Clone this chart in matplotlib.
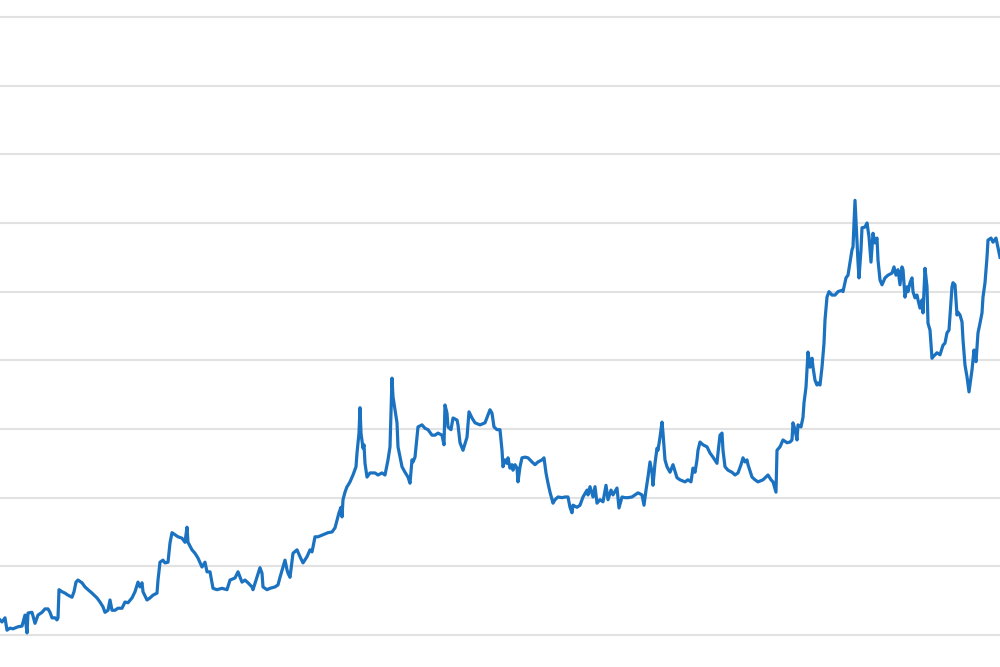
import matplotlib
matplotlib.use("Agg")
import matplotlib.pyplot as plt
import numpy as np

# readings: trading day vs. price level
days = [
    0, 2, 5, 7, 10, 13, 18, 22, 25, 27, 28, 32, 35, 38, 42, 45, 48, 50, 52, 55,
    57, 58, 59, 62, 65, 68, 72, 74, 76, 78, 82, 85, 88, 92, 97, 100, 103, 105, 108, 110,
    112, 115, 118, 122, 125,
    128, 132, 135, 138, 140, 142, 143, 147, 150, 153, 157, 158, 160, 163, 165, 168, 170, 172, 175, 178,
    182, 185, 187, 188, 192, 195, 198, 202, 205, 207, 210, 213, 217, 222, 227, 230, 235, 238, 242, 245,
    248, 252,
    253, 257, 260, 262, 263, 267, 270, 275, 278, 280, 283, 285, 287, 288, 290, 293, 297, 300, 303, 307,
    310, 312, 313, 315, 318, 323, 328, 332, 335, 337, 339, 341, 342, 343, 345, 347, 348, 350, 353, 356,
    357, 359, 360, 361, 363, 364, 365, 367, 370, 375, 378,
    382, 385, 388, 390, 392, 393, 395, 397, 398, 402, 405, 408, 410, 412, 413, 415, 418, 422, 425, 428,
    432, 435, 438, 442, 444, 445, 447, 448, 451, 453, 457, 458, 460, 463, 467, 469, 472, 475, 480, 485,
    490, 492, 494, 497, 500,
    502, 503, 505, 507, 508, 510, 512, 513, 515, 517, 518, 520, 522, 525, 528, 532, 535, 538, 542, 544,
    546, 548, 550, 553, 555, 558, 562, 565, 568, 570, 572, 573, 577, 580, 583, 587, 588, 590, 593, 595,
    597, 600, 603, 606, 608, 611, 613, 617, 619, 622, 625,
    628, 632, 635, 638, 642, 644, 646, 648, 650, 652, 653, 655, 657, 658, 660, 662, 663, 665, 667, 670,
    673, 677, 680, 685, 688, 691, 693, 695, 697, 698, 700, 703, 707, 710, 713, 717, 718, 720, 722, 723,
    725, 728, 732, 735, 738, 741, 743, 745, 747, 748, 752,
    755, 758, 763, 768, 771, 773, 776, 777, 780, 783, 787, 790, 792, 793, 795, 797, 798, 801, 803, 804,
    806, 807, 808, 810, 812, 813, 815, 817, 818, 820, 822, 823, 824, 825, 827, 829, 832, 835, 838, 842,
    843, 846, 848, 850, 852, 853, 855, 857, 858, 859, 861, 862, 865, 867, 869, 871, 873, 875, 877, 878,
    880, 882, 885, 888, 892, 894, 896, 898, 900, 902, 903, 905, 907, 908, 910, 912, 913, 915, 917, 918,
    920, 922, 923, 925, 927, 928, 930, 932, 933, 937, 940, 943, 945, 947, 949, 952, 953, 955, 957, 958,
    960, 962, 963, 965, 967, 969, 972, 974, 976, 978, 980, 982, 983, 985, 987, 988, 991, 993, 996, 998,
    1000,
]

price = [
    2.2, 1.9, 2.5, 0.7, 1.0, 0.9, 1.2, 1.3, 2.9, 0.3, 3.2, 3.3, 1.7, 2.9, 3.3, 3.8, 3.8, 3.3, 2.5, 2.5,
    2.2, 2.5, 6.6, 6.3, 6.1, 5.8, 5.5, 6.3, 7.7, 8.0, 7.6, 7.0, 6.6, 6.1, 5.4, 4.8, 4.1, 3.3, 3.6, 5.1,
    3.6, 3.6, 3.9, 3.9, 4.8,
    4.7, 5.4, 6.3, 7.7, 7.0, 7.6, 6.3, 5.1, 5.4, 5.8, 6.1, 8.0, 10.6, 10.9, 10.5, 10.6, 13.4, 14.9, 14.6, 14.3,
    14.1, 13.5, 15.7, 13.5, 12.4, 11.9, 11.2, 9.9, 10.6, 9.2, 9.2, 6.8, 6.6, 6.8, 6.6, 8.0, 8.3, 9.2, 7.7, 8.0,
    7.6, 7.0,
    6.6, 8.4, 9.8, 9.0, 7.0, 6.6, 6.8, 7.0, 7.3, 8.4, 9.9, 10.9, 9.5, 9.0, 8.4, 11.9, 12.4, 11.4, 10.5, 11.4,
    12.4, 12.1, 12.8, 14.3, 14.3, 14.6, 14.9, 15.0, 15.6, 16.7, 17.8, 18.6, 17.2, 19.7, 20.8, 21.6, 21.8, 22.3, 23.3, 24.5,
    26.5, 29.4, 33.1, 29.4, 27.2, 27.7, 25.0, 23.0, 23.6, 23.6, 23.3,
    23.6, 23.3, 25.5, 27.4, 37.4, 34.7, 32.8, 30.9, 27.4, 24.5, 23.7, 23.0, 22.1, 25.5, 25.2, 25.9, 30.3, 30.6, 30.1, 29.9,
    29.1, 29.1, 29.4, 29.1, 27.7, 33.5, 32.3, 30.3, 29.9, 31.6, 31.3, 30.6, 28.0, 26.9, 28.8, 32.5, 31.6, 30.9, 30.6, 30.9,
    32.8, 32.3, 30.3, 29.9, 29.9,
    26.9, 24.5, 25.5, 25.0, 25.8, 24.3, 24.8, 24.0, 24.8, 24.3, 22.3, 24.5, 25.8, 25.9, 25.8, 25.2, 24.8, 25.2, 25.5, 25.8,
    23.6, 22.1, 20.8, 19.2, 19.7, 20.1, 20.0, 20.1, 20.1, 18.6, 17.8, 18.9, 18.6, 18.9, 20.1, 21.1, 20.4, 21.6, 20.1, 21.6,
    19.2, 19.7, 19.4, 21.8, 19.7, 21.1, 20.4, 21.4, 18.5, 20.1, 20.0,
    20.0, 20.1, 20.4, 20.7, 20.4, 18.9, 21.1, 23.0, 25.2, 23.7, 21.8, 25.0, 27.2, 26.9, 28.8, 31.0, 29.4, 25.5, 24.5, 23.7,
    24.8, 22.9, 22.6, 22.3, 22.6, 22.3, 24.3, 23.7, 25.5, 26.9, 28.1, 27.7, 27.4, 26.5, 25.9, 25.0, 26.5, 29.1, 29.4, 26.9,
    24.5, 24.0, 23.7, 23.3, 23.6, 24.8, 25.8, 25.2, 25.5, 24.8, 23.0,
    22.6, 22.3, 22.6, 23.3, 22.6, 22.3, 20.8, 26.9, 27.4, 28.4, 28.0, 28.1, 28.4, 30.9, 29.9, 28.4, 30.6, 30.3, 31.7, 33.8,
    36.1, 38.6, 41.2, 39.0, 40.3, 39.0, 37.1, 36.4, 36.7, 36.4, 39.0, 40.8, 42.5, 45.9, 49.2, 50.0, 49.5, 49.5, 50.0, 50.2,
    50.0, 52.0, 52.4, 54.3, 56.1, 56.5, 63.3, 57.1, 54.3, 52.0, 56.1, 59.3, 59.4, 60.0, 58.0, 54.3, 58.5, 57.1, 57.8, 54.6,
    51.7, 51.0, 52.0, 52.4, 52.7, 53.6, 52.4, 53.2, 51.0, 53.6, 53.2, 49.2, 50.7, 50.0, 51.3, 52.0, 50.0, 49.1, 49.5, 48.8,
    47.6, 48.8, 46.9, 53.4, 50.7, 45.4, 44.4, 40.3, 40.5, 41.1, 40.8, 42.2, 42.5, 44.0, 44.4, 50.7, 51.3, 51.0, 46.6, 47.0,
    46.6, 45.6, 43.0, 39.3, 37.6, 35.4, 38.6, 41.5, 39.8, 44.0, 45.4, 46.9, 49.2, 51.3, 55.0, 57.5, 57.8, 57.2, 57.8, 56.4,
    55.0,
]

grid_levels = np.arange(0, 100, 10)

fig = plt.figure(figsize=(10, 6.67), dpi=100)
ax = fig.add_axes([0, 0, 1, 1])

ax.plot(days, price, color="#1b72c0", linewidth=2.3, solid_joinstyle="round", zorder=3)

ax.set_xlim(0, 1000)
ax.set_ylim(-4.66, 92.47)
ax.set_yticks(grid_levels)
ax.set_xticks([])
ax.yaxis.grid(True, color="#e2e2e2", linewidth=1.5)
ax.tick_params(axis="y", length=0, labelleft=False)
for side in ax.spines.values():
    side.set_visible(False)

fig.savefig("out.png", dpi=100)
